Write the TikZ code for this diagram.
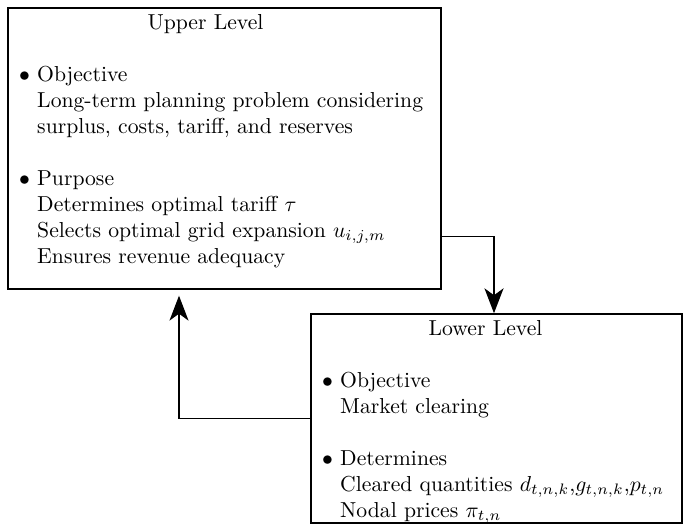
\documentclass[tikz,border=0pt]{standalone}
\usetikzlibrary{arrows.meta, positioning, calc}

\newcommand{\itempad}{\hphantom{$\bullet$~}}

\begin{document}
\begin{tikzpicture}[
  x=0.4615pt, y=-0.4615pt,
  level/.style={draw, rectangle, line width=0.65pt},
  leveltitle/.style={anchor=north, inner sep=3.33pt},
  levelbody/.style={anchor=north west, align=left},
  link/.style={-{Stealth[length=11.5pt, width=8.8pt, inset=3.2pt]}, line width=0.6pt}
]
\useasboundingbox (0,0) rectangle (684,527);

% Level boxes
\node[level, minimum width=199.8pt, minimum height=129.7pt] (upper) at (224.5,148.5) {};
\node[level, minimum width=171.2pt, minimum height=96.5pt] (lower) at (496.5,418.5) {};

% Upper level text
\node[leveltitle] (uppertitle) at ($(upper.north)+(-19,0)$) {Upper Level};
\node[levelbody] (upperbody) at ($(upper.north west)+(4.2,51.5)$) {%
  $\bullet$~Objective\\
  \itempad Long-term planning problem considering\\
  \itempad surplus, costs, tariff, and reserves\\[12pt]
  $\bullet$~Purpose\\
  \itempad Determines optimal tariff $\tau$\\
  \itempad Selects optimal grid expansion $u_{i,j,m}$\\
  \itempad Ensures revenue adequacy};

% Lower level text
\node[leveltitle] (lowertitle) at ($(lower.north)+(-11,0)$) {Lower Level};
\node[levelbody] (lowerbody) at ($(lower.north west)+(4.2,51.5)$) {%
  $\bullet$~Objective\\
  \itempad Market clearing\\[12pt]
  $\bullet$~Determines\\
  \itempad Cleared quantities $d_{t,n,k}$,$g_{t,n,k}$,$p_{t,n}$\\
  \itempad Nodal prices $\pi_{t,n}$};

% Links between levels
\coordinate (upperout) at ($(upper.south east)+(0,-53)$);
\coordinate (upperin) at ($(upper.south)+(-45.5,6)$);
\draw[link] (upperout) -| ($(lower.north)+(-2.5,0)$);
\draw[link] (lower.west) -| (upperin);

\end{tikzpicture}
\end{document}
